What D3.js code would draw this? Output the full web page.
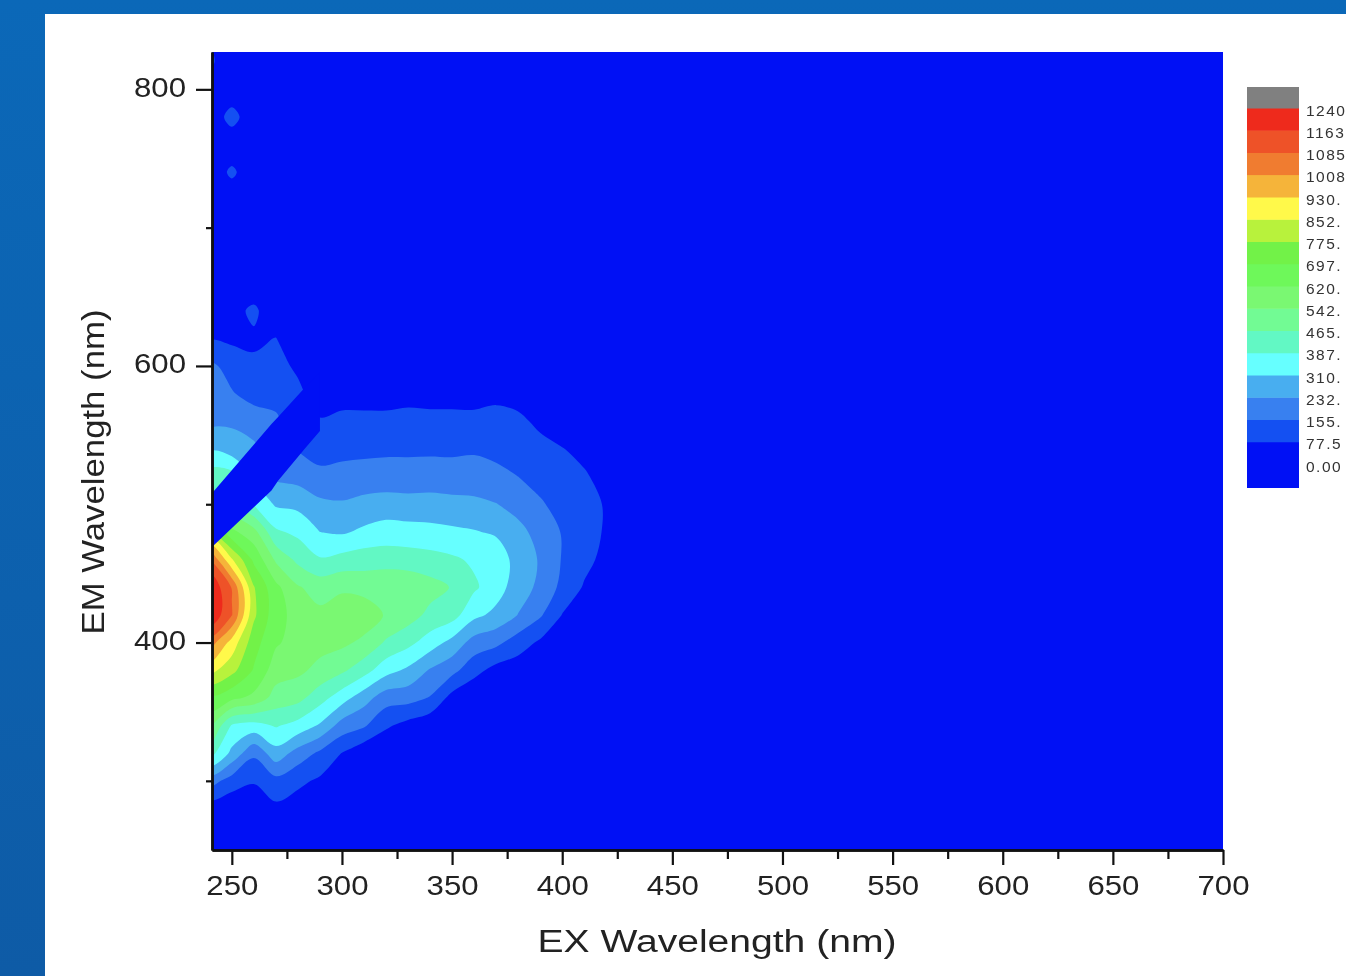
<!DOCTYPE html>
<meta charset="utf-8">
<style>
  html, body { margin: 0; padding: 0; overflow: hidden; background: #0b65b3; }
  svg { display: block; filter: blur(0.55px); }
  text { font-family: "Liberation Sans", Arial, sans-serif; fill: #222; }
</style>
<body>
<div id="vis"></div>
<script src="https://cdn.jsdelivr.net/npm/d3@7"></script>
<script>

const width = 1346,
    height = 976;

// excitation columns, emission rows (nm)
const exValues = [240,250,260,270,280,290,300,310,320,330,340,350,360,370,380,390,400,410,420,430];
const emValues = [260,280,300,320,340,360,380,400,420,440,460,480,500,520,540,560,580,600,620,640,660,680,700,720,740,760,780,800,820];

// intensity, one row per emission value
const intensity = [
  [0,0,0,0,0,0,0,0,0,0,0,0,0,0,0,0,0,0,0,0],
  [30,15,20,60,40,0,0,0,0,0,0,0,0,0,0,0,0,0,0,0],
  [190,120,85,130,95,65,0,0,0,0,0,0,0,0,0,0,0,0,0,0],
  [420,290,170,280,200,140,75,20,5,0,0,0,0,0,0,0,0,0,0,0],
  [560,380,360,395,360,300,200,165,90,50,20,5,0,0,0,0,0,0,0,0],
  [680,640,600,510,490,420,345,265,190,185,150,50,10,5,0,0,0,0,0,0],
  [880,800,690,580,560,520,480,420,340,295,225,180,105,50,35,10,0,0,0,0],
  [1050,900,730,630,590,570,560,525,455,410,350,285,200,175,115,65,30,0,0,0],
  [1235,1090,790,650,590,560,585,590,535,500,445,420,330,290,230,165,75,20,0,0],
  [1235,1080,780,640,550,510,530,515,530,525,495,460,400,345,270,215,135,70,30,0],
  [1090,860,680,530,445,395,415,430,430,425,415,400,375,355,280,225,150,100,55,0],
  [800,640,570,400,370,310,300,325,345,340,335,325,315,300,255,205,150,105,70,20],
  [500,480,380,300,290,250,240,255,265,260,260,255,250,235,205,165,125,100,72,25],
  [430,420,300,220,205,175,185,190,190,190,195,190,190,175,155,125,95,85,55,15],
  [300,270,250,180,150,125,130,135,140,140,140,140,145,135,120,95,80,60,30,0],
  [210,220,190,170,100,85,95,95,95,100,95,95,90,95,90,65,40,10,0,0],
  [200,160,130,125,100,30,50,50,50,55,55,55,60,65,55,15,0,0,0,0],
  [170,130,95,110,60,0,0,0,0,5,5,5,5,10,0,0,0,0,0,0],
  [70,60,60,80,0,0,0,0,0,0,0,0,0,0,0,0,0,0,0,0],
  [85,40,100,0,0,0,0,0,0,0,0,0,0,0,0,0,0,0,0,0],
  [40,0,0,0,0,0,0,0,0,0,0,0,0,0,0,0,0,0,0,0],
  [0,0,0,0,0,0,0,0,0,0,0,0,0,0,0,0,0,0,0,0],
  [0,0,0,0,0,0,0,0,0,0,0,0,0,0,0,0,0,0,0,0],
  [0,0,0,0,0,0,0,0,0,0,0,0,0,0,0,0,0,0,0,0],
  [0,100,0,0,0,0,0,0,0,0,0,0,0,0,0,0,0,0,0,0],
  [0,0,0,0,0,0,0,0,0,0,0,0,0,0,0,0,0,0,0,0],
  [0,120,0,0,0,0,0,0,0,0,0,0,0,0,0,0,0,0,0,0],
  [0,0,0,0,0,0,0,0,0,0,0,0,0,0,0,0,0,0,0,0],
  [100,0,0,0,0,0,0,0,0,0,0,0,0,0,0,0,0,0,0,0]
];

// scatter band where the instrument reads nothing
const bandEx = [241,268,271,283,290];
const bandEmLow = [469,510,517,540,553];
const bandEmHigh = [508,558,563,584,595];

const levels = [0,77.5,155,232.5,310,387.5,465,542.5,620,697.5,775,852.5,930,1008,1085,1163,1240];
const levelLabels = ['0.00','77.5','155.','232.','310.','387.','465.','542.','620.','697.','775.','852.','930.','1008','1085','1163','1240'];
const levelColors = ['#0010f5','#1450f2','#3880f0','#48aef0','#66ffff','#62f8c4','#72fb94','#7af872','#6ef85a','#72f248','#b8f23c','#fff94a','#f5b43a','#f07c30','#ee5228','#ee2a1c','#808080'];

const xTicks = [250,300,350,400,450,500,550,600,650,700];
const xMinorTicks = [275,325,375,425,475,525,575,625,675];
const yTicks = [400,600,800];
const yMinorTicks = [300,500,700];

const xScale = d3.scaleLinear().domain([241,700]).range([212,1223]);
const yScale = d3.scaleLinear().domain([250,827]).range([850,52]);
const legendScale = d3.scaleLinear().domain([0,1240]).range([464,108]);

const svg = d3.select('#vis')
    .append('svg')
    .attr('width', width)
    .attr('height', height);

const grad = svg.append('defs').append('linearGradient')
    .attr('id', 'page-bg')
    .attr('x1', 0).attr('x2', 0).attr('y1', 0).attr('y2', 1);
grad.append('stop').attr('offset', 0).attr('stop-color', '#0b68b8');
grad.append('stop').attr('offset', 1).attr('stop-color', '#0e5ba6');

svg.append('rect')
    .attr('width', width)
    .attr('height', height)
    .style('fill', 'url(#page-bg)');
svg.append('rect')
    .attr('x', 45)
    .attr('y', 14)
    .attr('width', width - 45)
    .attr('height', height - 14)
    .style('fill', '#fff');

svg.append('defs').append('clipPath')
    .attr('id', 'plot-clip')
    .append('rect')
    .attr('x', xScale(241))
    .attr('y', yScale(827))
    .attr('width', xScale(700) - xScale(241))
    .attr('height', yScale(250) - yScale(827));

const plotG = svg.append('g')
    .attr('class', 'plot-group')
    .attr('clip-path', 'url(#plot-clip)');

plotG.append('rect')
    .attr('x', xScale(241))
    .attr('y', yScale(827))
    .attr('width', xScale(700) - xScale(241))
    .attr('height', yScale(250) - yScale(827))
    .style('fill', levelColors[0]);

// d3.contours puts grid value i at i+0.5
const exStep = exValues[1] - exValues[0],
    emStep = emValues[1] - emValues[0];
const ringLine = d3.line()
    .x(p => xScale(exValues[0] + (p[0] - 0.5) * exStep))
    .y(p => yScale(emValues[0] + (p[1] - 0.5) * emStep))
    .curve(d3.curveCatmullRomClosed.alpha(0.5));
const contourPath = d => d.coordinates
    .map(poly => poly.map(ring => ringLine(ring.slice(0, -1))).join(''))
    .join('');

const contours = d3.contours()
    .size([exValues.length, emValues.length])
    .thresholds(levels.slice(1))
    (intensity.flat());

plotG.selectAll('.contour')
    .data(contours)
    .enter().append('path')
    .attr('class', 'contour')
    .attr('d', contourPath)
    .style('fill', (d,i) => levelColors[i + 1]);

const bandArea = d3.area()
    .x((d,i) => xScale(bandEx[i]))
    .y0((d,i) => yScale(bandEmLow[i]))
    .y1((d,i) => yScale(bandEmHigh[i]));
plotG.append('path')
    .attr('class', 'scatter-band')
    .attr('d', bandArea(bandEx))
    .style('fill', levelColors[0]);

// axes
svg.append('g')
    .attr('transform', 'translate(0,' + yScale(250) + ')')
    .call(d3.axisBottom(xScale).tickValues(xTicks).tickSize(15).tickSizeOuter(0).tickPadding(10));
svg.append('g')
    .attr('transform', 'translate(0,' + yScale(250) + ')')
    .call(d3.axisBottom(xScale).tickValues(xMinorTicks).tickSize(9).tickSizeOuter(0).tickFormat(''));
const yAxis = svg.append('g')
    .attr('transform', 'translate(' + xScale(241) + ',0)')
    .call(d3.axisLeft(yScale).tickValues(yTicks).tickSize(16).tickSizeOuter(0).tickPadding(10));
svg.append('g')
    .attr('transform', 'translate(' + xScale(241) + ',0)')
    .call(d3.axisLeft(yScale).tickValues(yMinorTicks).tickSize(6).tickSizeOuter(0).tickFormat(''));

svg.selectAll('.domain').style('stroke', '#111').style('stroke-width', 2.5);
svg.selectAll('.tick line').style('stroke', '#111').style('stroke-width', 2.2);
svg.selectAll('.tick text')
    .attr('textLength', 52)
    .attr('lengthAdjust', 'spacingAndGlyphs')
    .style('font-family', '"Liberation Sans", Arial, sans-serif')
    .style('font-size', '28px')
    .style('fill', '#222');
yAxis.selectAll('.tick text').attr('dy', '0.25em');

svg.append('text')
    .attr('x', 717)
    .attr('y', 952)
    .attr('text-anchor', 'middle')
    .attr('textLength', 359)
    .attr('lengthAdjust', 'spacingAndGlyphs')
    .style('font-size', '31px')
    .text('EX Wavelength (nm)');
svg.append('text')
    .attr('transform', 'translate(104,472) rotate(-90)')
    .attr('text-anchor', 'middle')
    .attr('textLength', 325)
    .attr('lengthAdjust', 'spacingAndGlyphs')
    .style('font-size', '31px')
    .text('EM Wavelength (nm)');

// colour key
const legendG = svg.append('g').attr('class', 'legend-group');
legendG.selectAll('.legend-band')
    .data(levels)
    .enter().append('rect')
    .attr('class', 'legend-band')
    .attr('x', 1247)
    .attr('width', 52)
    .attr('y', (d,i) => (i == levels.length - 1 ? 87 : legendScale(levels[i + 1])))
    .attr('height', (d,i) => {
      if (i == levels.length - 1) return legendScale(1240) - 87 + 0.5;
      if (i == 0) return 488 - legendScale(levels[1]);
      return legendScale(d) - legendScale(levels[i + 1]) + 0.5;
    })
    .style('fill', (d,i) => levelColors[i]);
legendG.selectAll('.legend-label')
    .data(levels)
    .enter().append('text')
    .attr('class', 'legend-label')
    .attr('x', 1306)
    .attr('y', d => legendScale(d) + 7.5)
    .style('font-size', '15.5px')
    .style('letter-spacing', '1.5px')
    .style('fill', '#333')
    .text((d,i) => levelLabels[i]);

</script>
</body>
